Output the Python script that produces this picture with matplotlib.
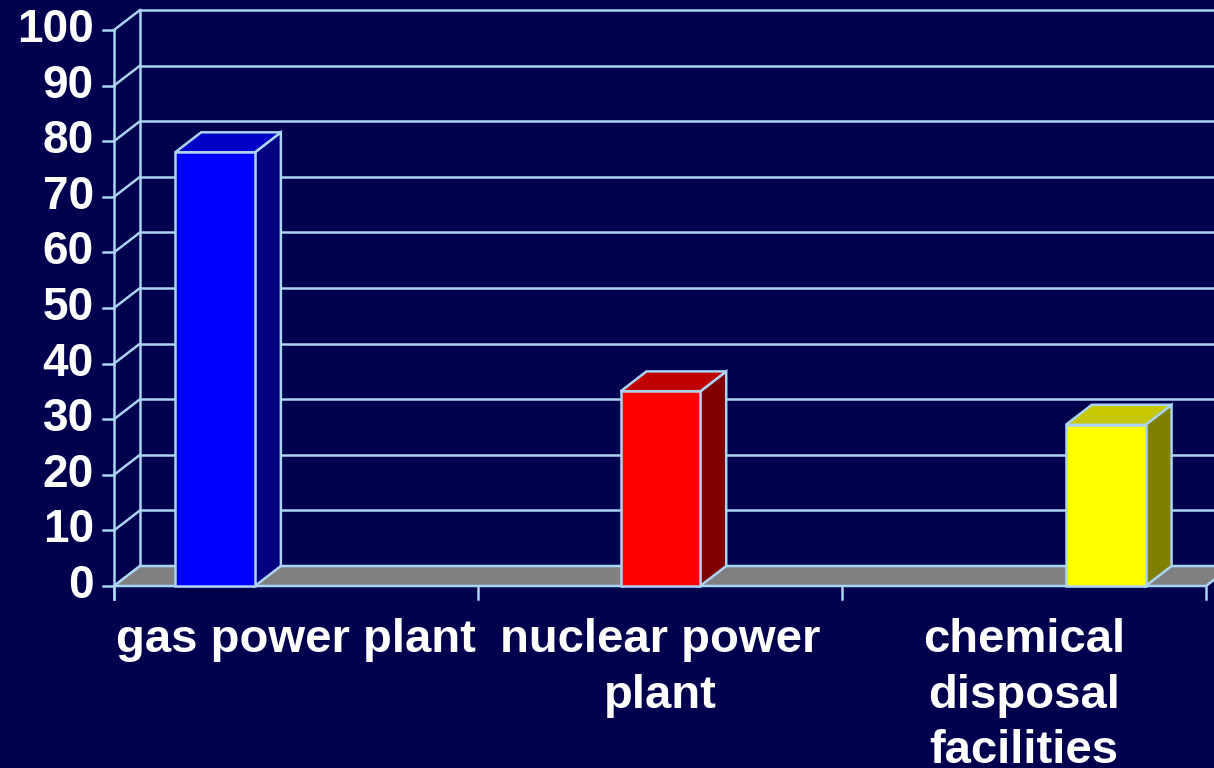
import matplotlib.pyplot as plt
from matplotlib.patches import Polygon, Rectangle

categories = ['gas power plant', 'nuclear power\nplant', 'chemical\ndisposal\nfacilities']
values = [78, 35, 29]
front_colors = ['#0000ff', '#ff0000', '#ffff00']
top_colors = ['#0000c8', '#c00000', '#c8c800']
side_colors = ['#000080', '#800000', '#808000']
yticks = list(range(0, 101, 10))

bg = '#00004f'
edge = '#aad4f2'
plt.rcParams['font.family'] = ['Liberation Sans', 'DejaVu Sans']

W, H = 1214, 768
fig = plt.figure(figsize=(W / 100, H / 100), dpi=100, facecolor=bg)
ax = fig.add_axes([114 / W, (H - 586) / H, 1092 / W, 556 / H])
ax.set_xlim(0, 3)
ax.set_ylim(0, 100)
ax.axis('off')

# depth offset of the 3D box (in data units)
DX = 26 / 364
DY = 20 / 5.56
bar_left = 0.168
bar_step = 1.2235
bar_w = 0.219
lw = 1.8

# back wall grid and left wall diagonals
for v in yticks:
    ax.plot([DX, 3.3], [v + DY, v + DY], color=edge, lw=lw, clip_on=False, zorder=1)
    ax.plot([0, DX], [v, v + DY], color=edge, lw=lw, clip_on=False, zorder=1)
    ax.plot([-0.03, 0], [v, v], color=edge, lw=lw, clip_on=False, zorder=1)
    ax.text(-0.055, v, str(v), color='white', fontsize=33, fontweight='bold',
            ha='right', va='center', clip_on=False)
ax.plot([DX, DX], [DY, 100 + DY], color=edge, lw=lw, clip_on=False, zorder=1)
ax.plot([0, 0], [-2.4, 100], color=edge, lw=lw, clip_on=False, zorder=1)

# floor
floor = Polygon([(0, 0), (3, 0), (3 + DX, DY), (DX, DY)], closed=True,
                facecolor='#808080', edgecolor=edge, lw=lw, clip_on=False, zorder=2)
ax.add_patch(floor)

# category ticks
for i in range(4):
    ax.plot([i, i], [0, -2.4], color=edge, lw=lw, clip_on=False, zorder=2)

# 3D bars
for i, v in enumerate(values):
    x0 = bar_left + i * bar_step
    x1 = x0 + bar_w
    side = Polygon([(x1, 0), (x1 + DX, DY), (x1 + DX, v + DY), (x1, v)], closed=True,
                   facecolor=side_colors[i], edgecolor=edge, lw=lw, clip_on=False, zorder=3)
    top = Polygon([(x0, v), (x1, v), (x1 + DX, v + DY), (x0 + DX, v + DY)], closed=True,
                  facecolor=top_colors[i], edgecolor=edge, lw=lw, clip_on=False, zorder=3)
    front = Rectangle((x0, 0), bar_w, v, facecolor=front_colors[i], edgecolor=edge,
                      lw=lw, clip_on=False, zorder=4)
    ax.add_patch(side)
    ax.add_patch(top)
    ax.add_patch(front)

# category labels
for i, lab in enumerate(categories):
    ax.text(i + 0.5, -5.8, lab, color='white', fontsize=34, fontweight='bold',
            ha='center', va='top', linespacing=1.34, clip_on=False)

fig.savefig('out.png', dpi=100, facecolor=bg)
